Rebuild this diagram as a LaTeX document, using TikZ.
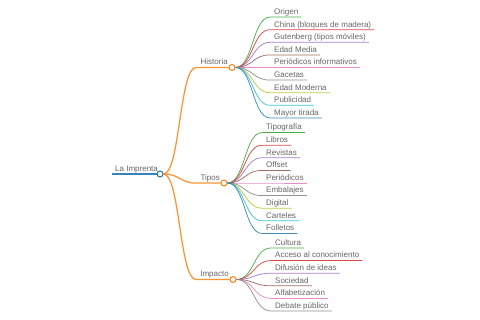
\documentclass[tikz,border=0pt]{standalone}
\usepackage{fontspec}
\setmainfont{Liberation Sans}
\usetikzlibrary{calc}
\definecolor{cblue}{HTML}{1F77B4}
\definecolor{corange}{HTML}{FF7F0E}
\definecolor{cgreen}{HTML}{2CA02C}
\definecolor{cred}{HTML}{D62728}
\definecolor{cpurple}{HTML}{9467BD}
\definecolor{cbrown}{HTML}{8C564B}
\definecolor{cpink}{HTML}{E377C2}
\definecolor{cgray}{HTML}{7F7F7F}
\definecolor{colive}{HTML}{BCBD22}
\definecolor{ccyan}{HTML}{17BECF}
\definecolor{txt}{HTML}{666666}
\tikzset{
  lbl/.style={inner sep=0pt, text=txt, font=\fontsize{8}{9.6}\selectfont},
  knob/.style={circle, fill=white, inner sep=0pt, minimum size=6pt, line width=1pt},
  leafline/.style={line width=0.75pt, draw opacity=0.85},
  branchline/.style={line width=1.25pt, draw=corange, draw opacity=0.85},
}
\newcommand\leafnode[6]{%
  \coordinate (#1s) at (#3,#4);
  \node[lbl, anchor=base west] (#1) at (#3+4,#4-2.6) {#6};
  \draw[leafline, draw=#5] (#2.east) .. controls +(17.5,0) and +(-17.5,0) .. (#1s) -- ($(#1.east |- #1s)+(3,0)$);
}
\begin{document}
\begin{tikzpicture}[x=1pt,y=-1pt]
\useasboundingbox (0,0) rectangle (480,320);
% root
\node[knob, draw=cblue] (root) at (160,174) {};
\coordinate (roots) at (112,174);
\node[lbl, anchor=base west] (rootl) at (115,171.4) {La Imprenta};
\draw[line width=1.4pt, cblue, draw opacity=0.9] (roots) -- (root.west);
% branches
\node[knob, draw=corange] (hist) at (232,67.5) {};
\node[knob, draw=corange] (tipos) at (224,183) {};
\node[knob, draw=corange] (imp) at (233,279.5) {};
\coordinate (hists) at (196,67.5);
\coordinate (tiposs) at (196,183);
\coordinate (imps) at (196,279.5);
\node[lbl, anchor=base east] (histl) at (228,64.9) {Historia};
\node[lbl, anchor=base east] (tiposl) at (220,180.4) {Tipos};
\node[lbl, anchor=base east] (impl) at (229,276.9) {Impacto};
\draw[branchline] (root.east) .. controls +(16.5,0) and +(-16.5,0) .. (hists) -- (hist.west);
\draw[branchline] (root.east) .. controls +(16.5,0) and +(-16.5,0) .. (tiposs) -- (tipos.west);
\draw[branchline] (root.east) .. controls +(16.5,0) and +(-16.5,0) .. (imps) -- (imp.west);
% Historia
\leafnode{h1}{hist}{270}{17.1}{cgreen}{Origen}
\leafnode{h2}{hist}{270}{29.7}{cred}{China (bloques de madera)}
\leafnode{h3}{hist}{270}{42.3}{cpurple}{Gutenberg (tipos móviles)}
\leafnode{h4}{hist}{270}{54.9}{cbrown}{Edad Media}
\leafnode{h5}{hist}{270}{67.5}{cpink}{Periódicos informativos}
\leafnode{h6}{hist}{270}{80.1}{cgray}{Gacetas}
\leafnode{h7}{hist}{270}{92.7}{colive}{Edad Moderna}
\leafnode{h8}{hist}{270}{105.3}{ccyan}{Publicidad}
\leafnode{h9}{hist}{270}{117.9}{cblue}{Mayor tirada}
% Tipos
\leafnode{t1}{tipos}{262}{132.6}{cgreen}{Tipografía}
\leafnode{t2}{tipos}{262}{145.2}{cred}{Libros}
\leafnode{t3}{tipos}{262}{157.8}{cpurple}{Revistas}
\leafnode{t4}{tipos}{262}{170.4}{cbrown}{Offset}
\leafnode{t5}{tipos}{262}{183}{cpink}{Periódicos}
\leafnode{t6}{tipos}{262}{195.6}{cgray}{Embalajes}
\leafnode{t7}{tipos}{262}{208.2}{colive}{Digital}
\leafnode{t8}{tipos}{262}{220.8}{ccyan}{Carteles}
\leafnode{t9}{tipos}{262}{233.4}{cblue}{Folletos}
% Impacto
\leafnode{i1}{imp}{271}{248}{cgreen}{Cultura}
\leafnode{i2}{imp}{271}{260.6}{cred}{Acceso al conocimiento}
\leafnode{i3}{imp}{271}{273.2}{cpurple}{Difusión de ideas}
\leafnode{i4}{imp}{271}{285.8}{cbrown}{Sociedad}
\leafnode{i5}{imp}{271}{298.4}{cpink}{Alfabetización}
\leafnode{i6}{imp}{271}{311}{cgray}{Debate público}
\end{tikzpicture}
\end{document}
